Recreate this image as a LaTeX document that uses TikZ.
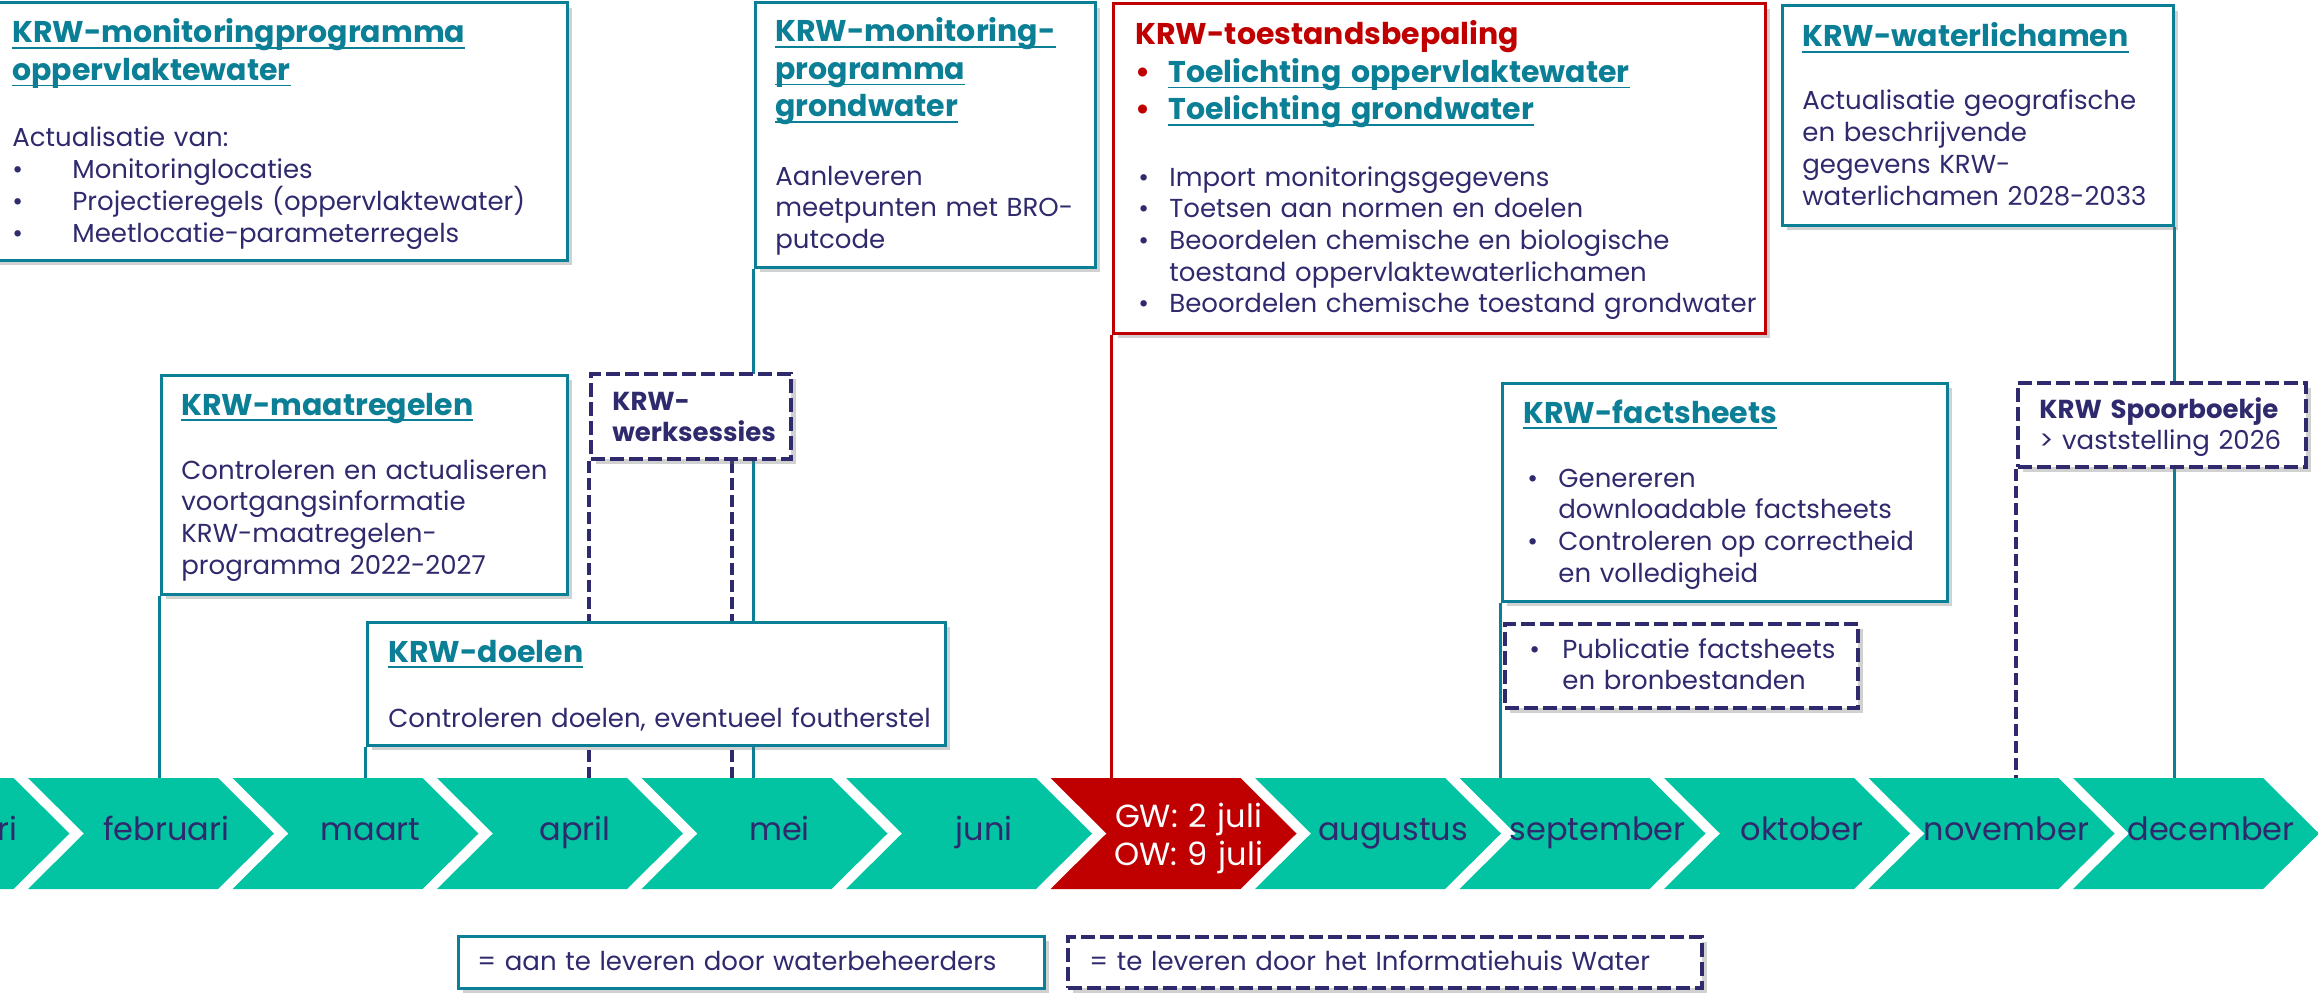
\documentclass[tikz,border=0pt]{standalone}
\usepackage{fontspec}
\setmainfont{Poppins}
\usetikzlibrary{fit,shadows}
\pgfdeclarelayer{back}
\pgfsetlayers{back,main}
\definecolor{krwteal}{HTML}{0A7F96}
\definecolor{krwgreen}{HTML}{02C3A2}
\definecolor{krwpurple}{HTML}{2F2A6D}
\definecolor{krwred}{HTML}{C00000}
\newcommand\ulink[1]{\leavevmode\setbox0=\hbox{#1}\rlap{\rule[-3pt]{\wd0}{0.9pt}}\box0}
\newcommand\itm[1][15.5pt]{\leavevmode\makebox[#1][l]{\textbullet}}
\newcommand\rbul{\leavevmode\makebox[16.5pt][l]{\color{krwred}\textbullet}}
\begin{document}
\begin{tikzpicture}[x=.5pt,y=-.5pt,
		box/.style={draw=krwteal,line width=1.5pt,fill=white,inner sep=0,
			drop shadow={shadow xshift=2.5pt,shadow yshift=-2.5pt,opacity=.3,fill=black!60}},
		dbox/.style={box,draw=krwpurple,line width=1.8pt,dash pattern=on 7pt off 2.5pt},
		txt/.style={anchor=base west,inner sep=0,text width=12cm,align=left,text=krwpurple,
			font=\fontsize{13}{15.85}\selectfont},
		ttl/.style={txt,text=krwteal,font=\bfseries\fontsize{15}{18.75}\selectfont},
		bld/.style={txt,font=\bfseries\fontsize{13}{15.5}\selectfont},
		ln/.style={krwteal,line width=1.5pt},
		dln/.style={krwpurple,line width=1.8pt,dash pattern=on 6pt off 2.5pt},
		mon/.style={anchor=base,inner sep=0,text width=4cm,align=center,font=\fontsize{16}{19}\selectfont}]
	\path[use as bounding box,clip] (0,0) rectangle (2318,995);
	% monitoringprogramma oppervlaktewater
	\node[box,fit={(-10,3) (567,260)}] (mpow) {};
	\node[ttl] (mpow-t) at (12,43) {\ulink{KRW-monitoringprogramma}\\\ulink{oppervlaktewater}};
	\node[txt] (mpow-b) at (12,147) {Actualisatie van:\\\itm[30pt]Monitoringlocaties\\
		\itm[30pt]Projectieregels (oppervlaktewater)\\\itm[30pt]Meetlocatie-parameterregels};
	% monitoringprogramma grondwater
	\node[box,fit={(755,3) (1095,267)}] (mpgw) {};
	\node[ttl] (mpgw-t) at (775,42) {\ulink{KRW-monitoring-}\\\ulink{programma}\\\ulink{grondwater}};
	\node[txt] (mpgw-b) at (775,185) {Aanleveren\\meetpunten met BRO-\\putcode};
	% toestandsbepaling
	\node[box,draw=krwred,fit={(1113,4) (1765,333)}] (toest) {};
	\node[ttl] (toest-t) at (1135,45) {{\color{krwred}KRW-toestandsbepaling}\\
		\rbul\ulink{Toelichting oppervlaktewater}\\\rbul\ulink{Toelichting grondwater}};
	\node[txt] (toest-b) at (1138,186) {\itm Import monitoringsgegevens\\\itm Toetsen aan normen en doelen\\
		\itm Beoordelen chemische en biologische\\\hspace*{15.5pt}toestand oppervlaktewaterlichamen\\
		\itm Beoordelen chemische toestand grondwater};
	% waterlichamen
	\node[box,fit={(1782,6) (2173,225)}] (wl) {};
	\node[ttl] (wl-t) at (1802,47) {\ulink{KRW-waterlichamen}};
	\node[txt] (wl-b) at (1802,110) {Actualisatie geografische\\en beschrijvende\\gegevens KRW-\\waterlichamen 2028-2033};
	% maatregelen
	\node[box,fit={(161,375) (567,594)}] (maatr) {};
	\node[ttl] (maatr-t) at (181,415) {\ulink{KRW-maatregelen}};
	\node[txt] (maatr-b) at (181,479) {Controleren en actualiseren\\voortgangsinformatie\\KRW-maatregelen-\\programma 2022-2027};
	% werksessies
	\node[dbox,fit={(591,374) (791,459)}] (werk) {};
	\node[bld] (werk-t) at (612,410) {KRW-\\werksessies};
	% doelen
	\node[box,fit={(367,622) (945,745)}] (doel) {};
	\node[ttl] (doel-t) at (388,662) {\ulink{KRW-doelen}};
	\node[txt] (doel-b) at (388,727) {Controleren doelen, eventueel foutherstel};
	% factsheets
	\node[box,fit={(1502,383) (1947,601)}] (facts) {};
	\node[ttl] (facts-t) at (1523,423) {\ulink{KRW-factsheets}};
	\node[txt] (facts-b) at (1527,487) {\itm Genereren\\\hspace*{15.5pt}downloadable factsheets\\
		\itm Controleren op correctheid\\\hspace*{15.5pt}en volledigheid};
	\node[dbox,fit={(1505,624) (1858,708)}] (publ) {};
	\node[txt] (publ-b) at (1529,658) {\itm[16.5pt]Publicatie factsheets\\\hspace*{16.5pt}en bronbestanden};
	% spoorboekje
	\node[dbox,fit={(2018,383) (2306,467)}] (spoor) {};
	\node[bld] (spoor-t) at (2039,418) {KRW Spoorboekje\\\mdseries > vaststelling 2026};
	% legenda
	\node[box,fit={(458,936) (1044,988)}] (leg1) {};
	\node[txt] (leg1-t) at (477,970) {= aan te leveren door waterbeheerders};
	\node[dbox,fit={(1068,937) (1702,988)}] (leg2) {};
	\node[txt] (leg2-t) at (1089,970) {= te leveren door het Informatiehuis Water};
	% tijdlijn
	\coordinate (tl) at (0,778);
	\foreach \m/\c/\t/\b [count=\i from 0] in {januari/krwgreen/krwpurple/840,februari/krwgreen/krwpurple/840,
		maart/krwgreen/krwpurple/840,april/krwgreen/krwpurple/840,mei/krwgreen/krwpurple/840,
		juni/krwgreen/krwpurple/840,{GW: 2 juli\\OW: 9 juli}/krwred/white/827,augustus/krwgreen/krwpurple/840,
		september/krwgreen/krwpurple/840,oktober/krwgreen/krwpurple/840,november/krwgreen/krwpurple/840,
		december/krwgreen/krwpurple/840}{
		\fill[\c] (-176.5+204.5*\i,778) -- ++(190,0) -- ++(56,55.5) -- ++(-56,55.5) -- ++(-190,0) -- ++(56,-55.5) -- cycle;
		\node[mon,text=\t] (m\i) at (-38.5+204.5*\i,\b) {\m};
	}
	\coordinate (werk-r) at ([xshift=-30.5pt]werk.south east);
	\begin{pgfonlayer}{back}
		\foreach \n in {maatr.south west,mpgw.south west,doel.south west,facts.south west,wl.south east}
			\draw[ln] (\n) -- (\n |- tl);
		\draw[ln,krwred] (toest.south west) -- (toest.south west |- tl);
		\foreach \n in {werk.south west,werk-r,spoor.south west}
			\draw[dln] (\n) -- (\n |- tl);
	\end{pgfonlayer}
\end{tikzpicture}
\end{document}
